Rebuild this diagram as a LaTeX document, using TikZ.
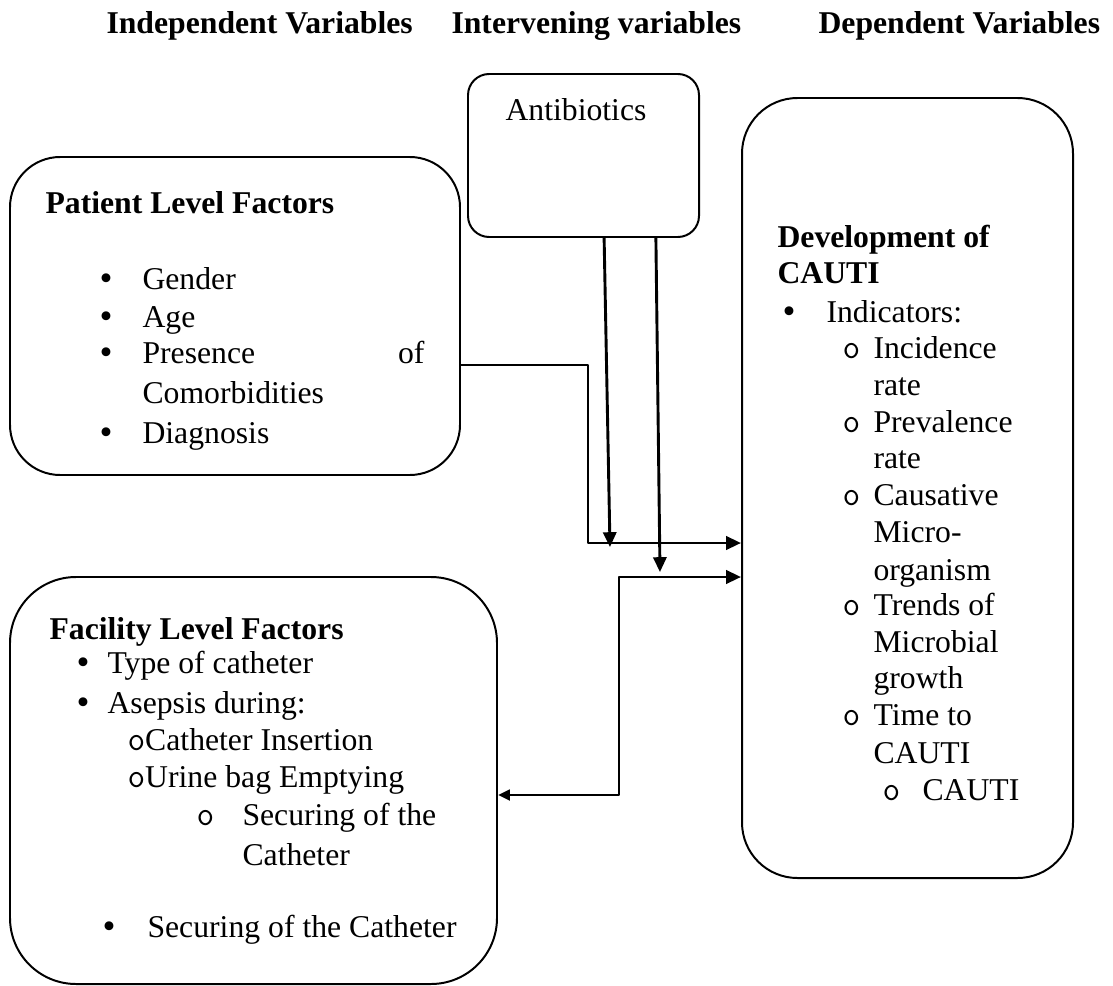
\documentclass[tikz,border=0pt]{standalone}
\usepackage{fontspec}
\setmainfont{Liberation Serif}
\usetikzlibrary{arrows.meta,fit}
\tikzset{
	box/.style={draw, line width=0.75pt, inner sep=0pt},
	conn/.style={line width=1.1pt},
	txt/.style={anchor=base west, inner sep=0pt},
	head/.style={txt, font=\fontsize{12pt}{14pt}\selectfont\bfseries},
}
\newcommand{\hollow}{{\fontsize{13pt}{14pt}\selectfont\ttfamily o}}
\newcommand{\bul}{\smash{\raisebox{-0.5pt}{\fontsize{14pt}{14pt}\selectfont •}}}
\begin{document}
\begin{tikzpicture}[x=0.3785pt, y=-0.3785pt, font=\fontsize{12pt}{14pt}\selectfont, line join=round, >={Triangle[length=5.6pt,width=5pt]}]
	\useasboundingbox (0,0) rectangle (1113,986);
	% Tiêu đề
	\node[head] (tind) at (106,34) {Independent Variables};
	\node[head] (tint) at (451,34) {Intervening variables};
	\node[head] (tdep) at (818,34) {Dependent Variables};
	% Antibiotics
	\node[box, rounded corners=8pt, fit={(468,74) (699,237)}] (antib) {};
	\node[txt] (atext) at (505,121) {Antibiotics};
	% Patient Level Factors
	\node[box, rounded corners=19pt, fit={(10,157) (460,475)}] (patient) {};
	\node[head] (ptitle) at (45,214) {Patient Level Factors};
	\foreach \yy/\tx in {289/Gender, 327/Age, 363/Presence, 443/Diagnosis}{
		\node[txt] (pb\yy) at (99,\yy) {\bul};
		\node[txt] (pt\yy) at (142,\yy) {\tx};
	}
	\node[txt, anchor=base east] (pof) at (425,363) {of};
	\node[txt] (pcom) at (142,403) {Comorbidities};
	% Facility Level Factors
	\node[box, rounded corners=25pt, fit={(10,577) (497,984)}] (facility) {};
	\node[head] (ftitle) at (49,639) {Facility Level Factors};
	\foreach \yy/\tx in {673/Type of catheter, 713/Asepsis during:}{
		\node[txt] (fb\yy) at (76,\yy) {\bul};
		\node[txt] (ft\yy) at (107,\yy) {\tx};
	}
	\node[txt] (fins) at (127,750) {\hollow Catheter Insertion};
	\node[txt] (fbag) at (127,787) {\hollow Urine bag Emptying};
	\node[txt] (fo825) at (196,825) {\hollow};
	\node[txt] (fsec) at (242,825) {Securing of the};
	\node[txt] (fcat) at (242,865) {Catheter};
	\node[txt] (fb937) at (102,937) {\bul};
	\node[txt] (fsec2) at (147,937) {Securing of the Catheter};
	% Development of CAUTI
	\node[box, rounded corners=21pt, fit={(742,98) (1073,878)}] (devel) {};
	\node[head] (dtitle) at (777,247) {Development of};
	\node[head] (dtitle2) at (777,283) {CAUTI};
	\node[txt] (db322) at (782,322) {\bul};
	\node[txt] (dind) at (826,322) {Indicators:};
	\foreach \yy/\tx in {358/Incidence, 395/rate, 432/Prevalence, 468/rate, 505/Causative, 542/Micro-, 580/organism, 615/Trends of, 652/Microbial, 688/growth, 725/Time to, 763/CAUTI}
		\node[txt] (dt\yy) at (873,\yy) {\tx};
	\foreach \yy in {358,432,505,615,725}
		\node[txt] (do\yy) at (842,\yy) {\hollow};
	\node[txt] (do800) at (882,800) {\hollow};
	\node[txt] (dt800) at (922,800) {CAUTI};
	% Mũi tên
	\coordinate (py) at (0,365);
	\coordinate (fy) at (0,795);
	\coordinate (pj) at (588,543);
	\coordinate (fj) at (619,577);
	\coordinate (a1) at (610,547);
	\coordinate (a2) at (660,572);
	\draw[conn,->] (patient.east |- py) -| (pj) -- (pj -| devel.west);
	\draw[conn,->] ([xshift=7.8pt]antib.south) -- (a1);
	\draw[conn,->] ([xshift=27.4pt]antib.south) -- (a2);
	\draw[conn,{Triangle[length=4.5pt,width=4pt]}->] (facility.east |- fy) -| (fj) -- (fj -| devel.west);
\end{tikzpicture}
\end{document}
